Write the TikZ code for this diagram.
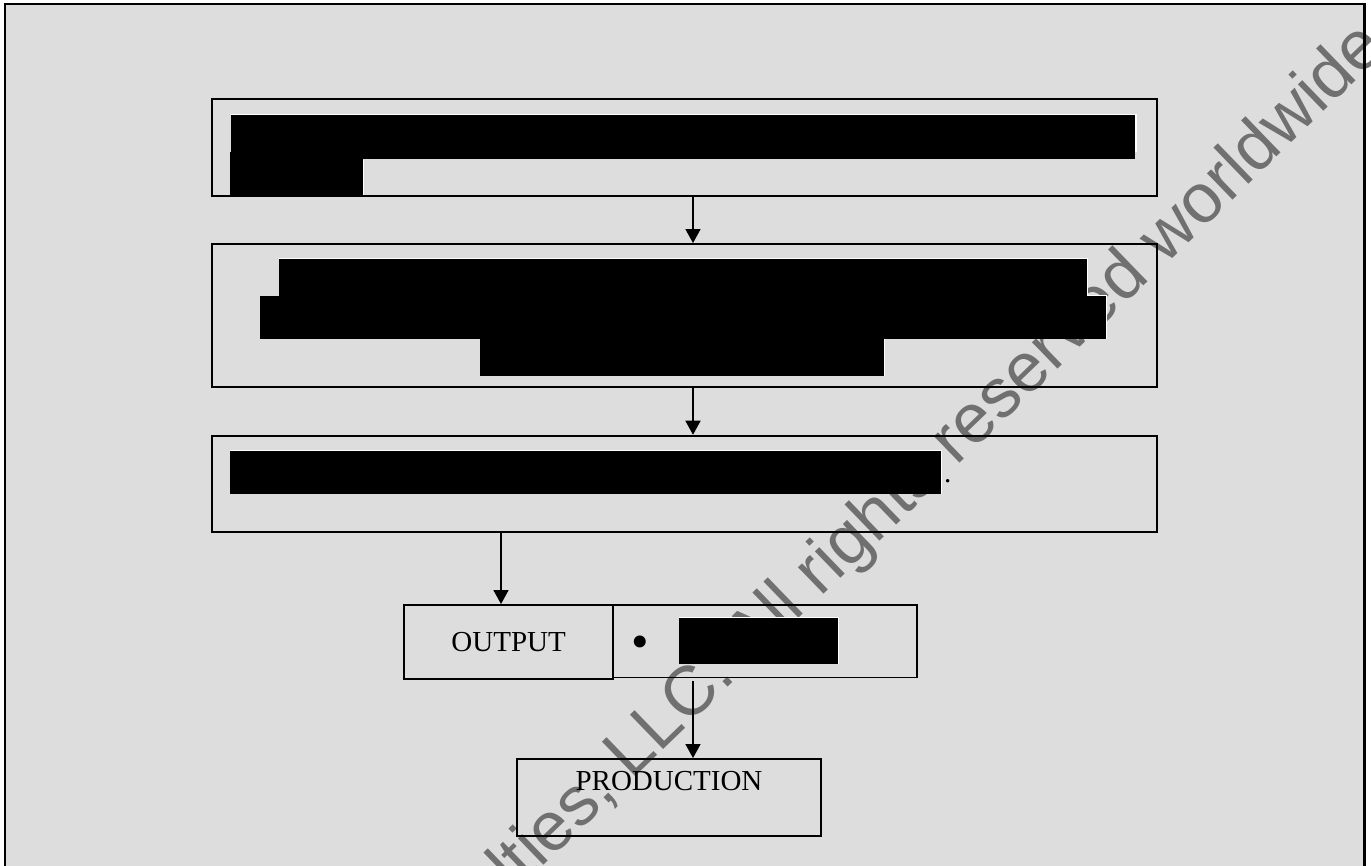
\documentclass[tikz,border=0pt]{standalone}
\usepackage{fontspec}
\setmainfont{Liberation Serif}
\newfontfamily\wmfont{Liberation Sans}
\usetikzlibrary{arrows.meta}
\definecolor{bggray}{RGB}{221,221,221}
\definecolor{wmgray}{RGB}{112,112,112}
\begin{document}
\begin{tikzpicture}[x=1pt, y={(0pt,-1pt)},
  box/.style={draw=black, line width=1.9pt, rectangle, inner sep=0pt},
  arr/.style={draw=black, line width=1.5pt, -{Triangle[width=15pt,length=14pt]}},
  redact/.style={fill=black},
  hl/.style={draw=white, line width=1.2pt},
  lbl/.style={inner sep=0pt, font=\fontsize{29}{34}\selectfont},
  wm/.style={anchor=base west, rotate=44, inner sep=0pt, text=wmgray,
             font=\wmfont\fontsize{69.5}{84}\selectfont}]
\useasboundingbox (0,0) rectangle (1371,866);
% background and frame
\fill[bggray] (5,4) rectangle (1364.5,880);
% watermark
\node[wm] (wm) at (515,893) {lties, LLC. All rights reserved worldwide};
\draw[line width=2.8pt] (5,880) -- (5,4) -- (1364.5,4) -- (1364.5,880);
% boxes
\node[box, minimum width=944.4pt, minimum height=96.7pt] (b1) at (684.5,147.65) {};
\node[box, minimum width=944.4pt, minimum height=143.3pt] (b2) at (684.5,315.65) {};
\node[box, minimum width=944.4pt, minimum height=96pt] (b3) at (684.5,483.7) {};
\node[box, minimum width=208.7pt, minimum height=73.6pt, font=\fontsize{29}{34}\selectfont] (outl) at (508.65,641.8) {OUTPUT};
\node[box, minimum width=303.8pt, minimum height=72.5pt] (outr) at (764.9,641.25) {};
\node[box, minimum width=304.6pt, minimum height=77.4pt] (prod) at (669.1,797.7) {};
\node[lbl, anchor=base] (prodtxt) at (669,790) {PRODUCTION};
% redaction bars
\fill[redact] (231,115) rectangle (1135.4,159);
\draw[hl] (231,114.4) -- (1136,114.4) -- (1136,151.7);
\fill[redact] (229.7,151.7) rectangle (362.7,195.2);
\draw[hl] (363.3,159.6) -- (363.3,195);
\fill[redact] (279.2,259.3) rectangle (1087,296);
\draw[hl] (279.2,258.7) -- (1087.6,258.7) -- (1087.6,296);
\fill[redact] (260,296) rectangle (1105.7,338.7);
\draw[hl] (1087.6,295.4) -- (1106.3,295.4) -- (1106.3,338.7);
\fill[redact] (480.2,338.7) rectangle (884.2,375.7);
\draw[hl] (884.8,338.7) -- (884.8,375.7);
\fill[redact] (230.3,451) rectangle (941.1,494.3);
\draw[hl] (230.3,450.4) -- (941.7,450.4) -- (941.7,494.3);
\node[lbl, anchor=base west] (dot) at (944,482) {.};
\node[inner sep=0pt, anchor=base, font=\fontsize{50}{50}\selectfont] (bul) at (640.7,658) {•};
\fill[redact] (679,618) rectangle (838,664);
\draw[hl] (679,617.4) -- (838.6,617.4) -- (838.6,664);
% connectors
\coordinate (ax) at (693,0);
\coordinate (axb) at (501,0);
\draw[arr] (b1.south -| ax) -- (b2.north -| ax);
\draw[arr] (b2.south -| ax) -- (b3.north -| ax);
\draw[arr] (b3.south -| axb) -- (outl.north -| axb);
\draw[arr, shorten <=3pt] (outr.south -| ax) -- (prod.north -| ax);
\end{tikzpicture}
\end{document}
